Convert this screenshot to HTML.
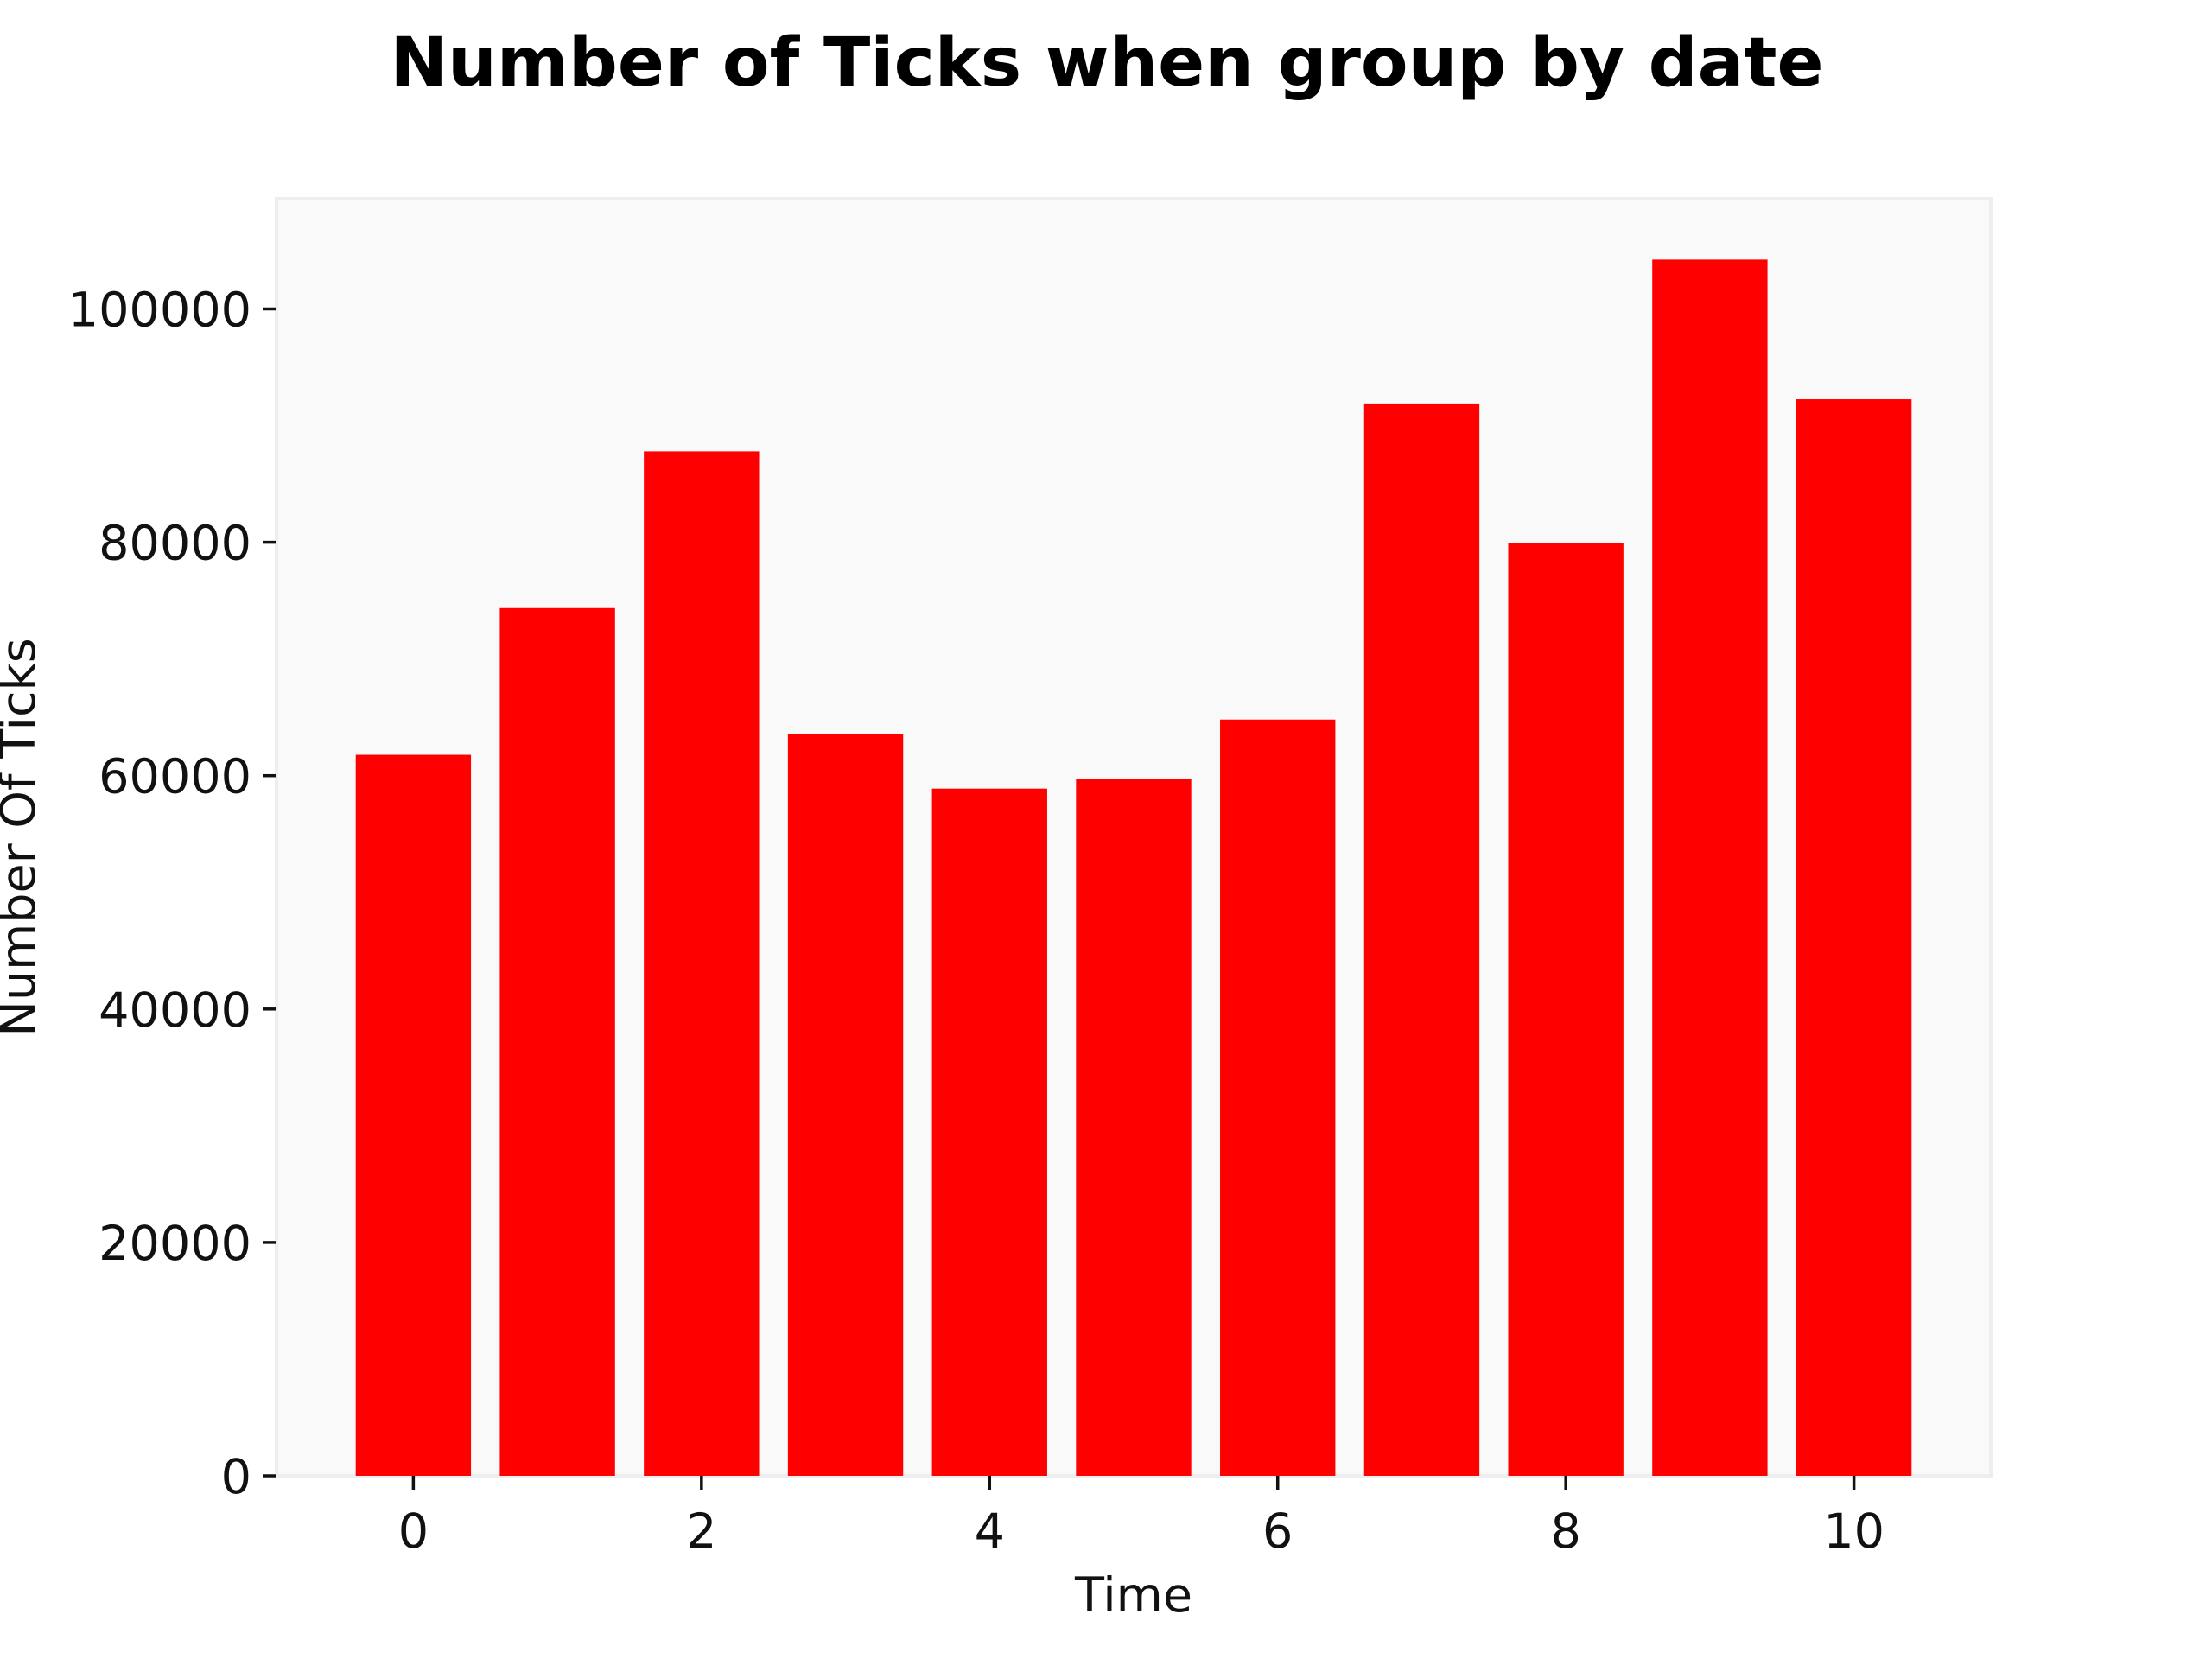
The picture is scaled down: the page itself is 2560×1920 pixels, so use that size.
<!DOCTYPE html>
<html><head><meta charset="utf-8"><style>
html,body{margin:0;padding:0;background:#fff;}
svg{display:block;font-family:"DejaVu Sans","Liberation Sans",sans-serif;}
</style></head><body>
<svg id="chart" width="2560" height="1920" viewBox="0 0 2560 1920" xmlns="http://www.w3.org/2000/svg">
<rect width="2560" height="1920" fill="#ffffff"/>
<text x="1281" y="99" text-anchor="middle" font-size="78" font-weight="bold" fill="#000" textLength="1659" lengthAdjust="spacingAndGlyphs">Number of Ticks when group by date</text>
<rect x="320" y="230" width="1984" height="1478" fill="#f9f9f9" stroke="#eeeeee" stroke-width="4"/>
<g id="bars"></g>
<g id="yaxis"></g>
<g id="xaxis"></g>
<text x="1312" y="1865" text-anchor="middle" font-size="55.6" fill="#111">Time</text>
<text transform="translate(40,969) rotate(-90)" text-anchor="middle" font-size="55.6" fill="#111">Number Of Ticks</text>
</svg>
<script>
const categories = [0,1,2,3,4,5,6,7,8,9,10];
const values = [61790,74360,87790,63600,58890,59730,64810,91900,79930,104230,92260];
const yTicks = [0,20000,40000,60000,80000,100000];
const xTicks = [0,2,4,6,8,10];

const NS = "http://www.w3.org/2000/svg";
const L = 320, R = 2304, T = 230, B = 1708;
const xMin = -0.95, xMax = 10.95;
const yMax = Math.max(...values) * 1.05;
function xScale(v){ return L + (v - xMin) / (xMax - xMin) * (R - L); }
function yScale(v){ return B - v / yMax * (B - T); }
function mk(tag, attrs, parent){ const e = document.createElementNS(NS, tag); for (const k in attrs) e.setAttribute(k, attrs[k]); parent.appendChild(e); return e; }

const bars = document.getElementById('bars');
categories.forEach((c, i) => {
  const x0 = xScale(c - 0.4), x1 = xScale(c + 0.4);
  const r = mk('rect', {x: x0, y: yScale(values[i]), width: x1 - x0, height: B - yScale(values[i]), fill: '#ff0000'}, bars);
  
  
});

const ya = document.getElementById('yaxis');
yTicks.forEach(t => {
  const y = yScale(t);
  const ln = mk('line', {x1: 304, x2: 320, y1: y, y2: y, stroke: '#111', 'stroke-width': 3.5}, ya);
  
  
  const tx = mk('text', {x: 291, y: y + 20, 'text-anchor': 'end', 'font-size': 55.6, fill: '#111'}, ya);
  tx.textContent = String(t);
  
  
});

const xa = document.getElementById('xaxis');
xTicks.forEach(t => {
  const x = xScale(t);
  const ln = mk('line', {x1: x, x2: x, y1: 1708, y2: 1724, stroke: '#111', 'stroke-width': 3.5}, xa);
  
  
  const tx = mk('text', {x: x, y: 1791, 'text-anchor': 'middle', 'font-size': 55.6, fill: '#111'}, xa);
  tx.textContent = String(t);
  
  
});
</script>
</body></html>
